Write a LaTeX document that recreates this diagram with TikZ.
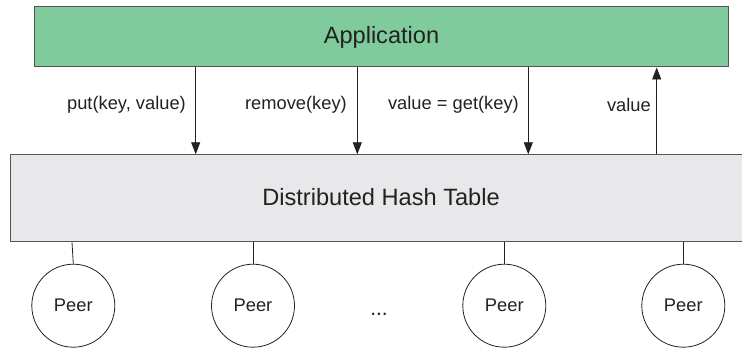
\documentclass[tikz,border=0pt]{standalone}
\usepackage{fontspec}
\setmainfont{Liberation Sans}
\usetikzlibrary{arrows.meta}
\definecolor{appgreen}{HTML}{80CB9B}
\definecolor{dhtgray}{HTML}{E8E8EA}
\definecolor{edgegray}{HTML}{555555}
\definecolor{ink}{HTML}{222222}
\tikzset{
  layerbox/.style={draw=edgegray, line width=1pt, rectangle, inner sep=0pt, text=ink},
  bigtext/.style={font=\fontsize{23.6}{27}\selectfont},
  smalltext/.style={font=\fontsize{18.3}{21}\selectfont},
  call/.style={draw=ink, line width=0.9pt, -{Triangle[length=12pt,width=9pt]}},
  calllabel/.style={anchor=east, text=ink, smalltext, inner sep=0pt},
  peer/.style={draw=ink, line width=0.8pt, circle, minimum size=83pt, inner sep=0pt,
               text=ink, smalltext},
  link/.style={draw=ink, line width=0.8pt}
}
\begin{document}
\begin{tikzpicture}[x=1pt, y=-1pt]
  \clip (0,0) rectangle (742,352);
  \fill[white] (0,0) rectangle (742,352);

  % layers
  \node[layerbox, fill=appgreen, minimum width=694pt, minimum height=60pt,
        bigtext] (app) at (381.5,37) {Application};
  \node[layerbox, fill=dhtgray, minimum width=742pt, minimum height=87pt] (dht) at (381.5,198.3) {};
  \node[text=ink, bigtext] (dhtlabel) at (381,197) {Distributed Hash Table};

  % calls between application and DHT
  \draw[call] (app.south -| 195.7,0) -- (dht.north -| 195.7,0);
  \draw[call] (app.south -| 357.3,0) -- (dht.north -| 357.3,0);
  \draw[call] (app.south -| 528.3,0) -- (dht.north -| 528.3,0);
  \draw[call] (dht.north -| 656.7,0) -- (app.south -| 656.7,0);

  \node[calllabel] (l1) at (186,105) {put(key, value)};
  \node[calllabel] (l2) at (347,105) {remove(key)};
  \node[calllabel] (l3) at (519,105) {value = get(key)};
  \node[calllabel] (l4) at (651,105) {value};

  % peers
  \node[peer] (p1) at (73.3,305.7) {Peer};
  \node[peer] (p2) at (253,305.7) {Peer};
  \node[peer] (p3) at (504.3,305.7) {Peer};
  \node[peer] (p4) at (683.3,305.7) {Peer};
  \node[text=ink, font=\fontsize{21}{24}\selectfont] (dots) at (379,314) {...};

  \draw[link] (p1.north) -- (dht.south -| 72,0);
  \draw[link] (p2.north) -- (dht.south -| p2.north);
  \draw[link] (p3.north) -- (dht.south -| p3.north);
  \draw[link] (p4.north) -- (dht.south -| p4.north);
\end{tikzpicture}
\end{document}
